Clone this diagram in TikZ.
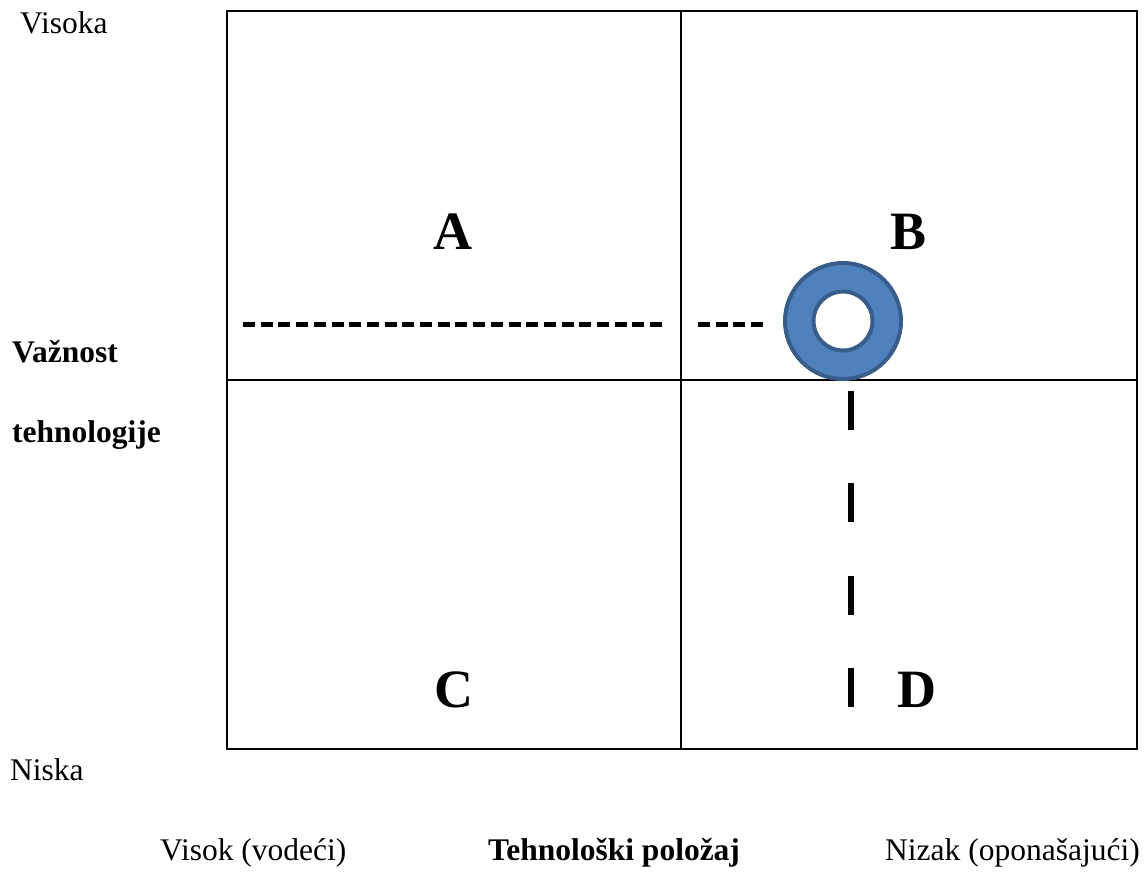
\documentclass[tikz,border=0pt]{standalone}
\usepackage{fontspec}
\setmainfont{Liberation Serif}
\definecolor{ringfill}{HTML}{4F81BD}
\definecolor{ringline}{HTML}{385D8A}
\begin{document}
\begin{tikzpicture}[x=1pt,y=-1pt,
  lbl/.style={inner sep=0pt,font=\fontsize{31.5}{36}\selectfont},
  blbl/.style={inner sep=0pt,font=\fontsize{31.5}{36}\selectfont\bfseries},
  quad/.style={inner sep=0pt,anchor=base,font=\fontsize{54}{60}\selectfont\bfseries},
  frame/.style={line width=2pt},
  hdash/.style={line width=5pt,dash pattern=on 12pt off 5.7pt},
  vdash/.style={line width=6pt,dash pattern=on 39pt off 53.3pt},
  ring/.style={fill=ringfill,draw=ringline,line width=4pt,even odd rule}]
\useasboundingbox (0,0) rectangle (1146,871);
% frame
\coordinate (tl) at (227,11);
\coordinate (br) at (1137,749);
\coordinate (mt) at (681,11);
\coordinate (mb) at (681,749);
\coordinate (ml) at (227,380);
\coordinate (mr) at (1137,380);
\draw[frame] (tl) rectangle (br);
\draw[frame] (mt) -- (mb);
\draw[frame] (ml) -- (mr);
% quadrant letters
\node[quad] (A) at (453,249) {A};
\node[quad] (B) at (908,249) {B};
\node[quad] (C) at (454,707) {C};
\node[quad] (D) at (917,707) {D};
% dashed lines
\coordinate (h1s) at (243,324);
\coordinate (h1e) at (663,324);
\coordinate (h2s) at (698,324);
\coordinate (h2e) at (763,324);
\coordinate (v1s) at (851,391);
\coordinate (v1e) at (851,707);
\draw[hdash] (h1s) -- (h1e);
\draw[hdash] (h2s) -- (h2e);
\draw[vdash] (v1s) -- (v1e);
% ring
\coordinate (rc) at (843,321);
\path[ring] (rc) circle (58) (rc) circle (29.5);
% axis labels
\node[lbl,anchor=base west] (visoka) at (20,33) {Visoka};
\node[blbl,anchor=base west] (vaz) at (12,362) {Važnost};
\node[blbl,anchor=base west] (teh) at (12,442) {tehnologije};
\node[lbl,anchor=base west] (niska) at (10,780) {Niska};
\node[lbl,anchor=base west] (visok) at (160,860) {Visok (vodeći)};
\node[blbl,anchor=base west] (tpol) at (488,860) {Tehnološki položaj};
\node[lbl,anchor=base west] (nizak) at (885,860) {Nizak (oponašajući)};
\end{tikzpicture}
\end{document}
